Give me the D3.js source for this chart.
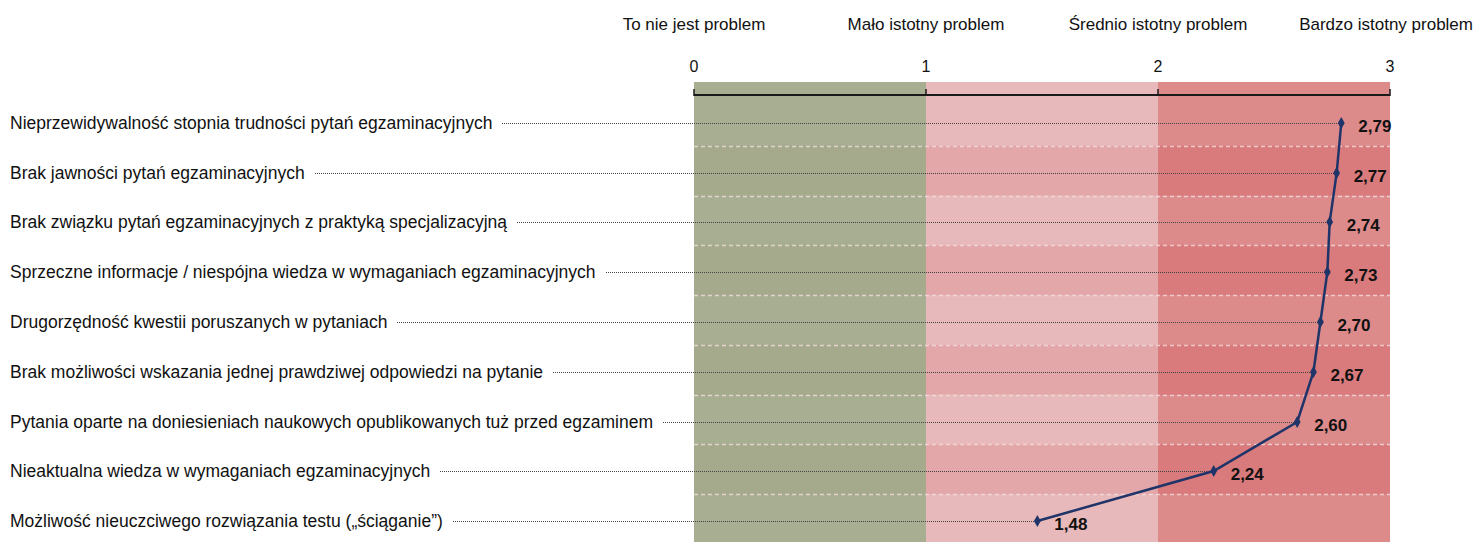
<!DOCTYPE html>
<html>
<head>
<meta charset="utf-8">
<script src="https://cdn.jsdelivr.net/npm/d3@7"></script>
<style>
  body { margin: 0; background: #fff; }
  svg { display: block; font-family: "Liberation Sans", Arial, sans-serif; }
</style>
</head>
<body>
<svg id="chart"></svg>
<script>
var width = 1475;
var height = 542;

// categories, top to bottom
var categories = [
    "Nieprzewidywalność stopnia trudności pytań egzaminacyjnych",
    "Brak jawności pytań egzaminacyjnych",
    "Brak związku pytań egzaminacyjnych z praktyką specjalizacyjną",
    "Sprzeczne informacje / niespójna wiedza w wymaganiach egzaminacyjnych",
    "Drugorzędność kwestii poruszanych w pytaniach",
    "Brak możliwości wskazania jednej prawdziwej odpowiedzi na pytanie",
    "Pytania oparte na doniesieniach naukowych opublikowanych tuż przed egzaminem",
    "Nieaktualna wiedza w wymaganiach egzaminacyjnych",
    "Możliwość nieuczciwego rozwiązania testu („ściąganie”)"
];
var values = [2.79, 2.77, 2.74, 2.73, 2.70, 2.67, 2.60, 2.24, 1.48];
var tickValues = [0, 1, 2, 3];
var scaleLabels = ["To nie jest problem", "Mało istotny problem", "Średnio istotny problem", "Bardzo istotny problem"];

var zoneColors = ["#a8ae91", "#e8b9ba", "#dd8a8b"];
var zoneColorsDark = ["#a4aa8b", "#e3a7a9", "#d97a7c"];

var svg = d3.select("#chart")
    .attr("width", width)
    .attr("height", height);

var x = d3.scaleLinear()
    .domain([0, 3])
    .range([694, 1390]);

var y = d3.scaleBand()
    .domain(categories)
    .range([96, 544]);

var bgTop = 82;

// background zones
svg.selectAll(".zone")
    .data([0, 1, 2])
    .enter().append("rect")
    .attr("class", "zone")
    .attr("x", function (d) { return x(d); })
    .attr("y", bgTop)
    .attr("width", function (d) { return x(d + 1) - x(d); })
    .attr("height", height - bgTop)
    .style("fill", function (d) { return zoneColors[d]; });

// darker alternating rows
categories.forEach(function (c, i) {
    if (i % 2 === 1) {
        svg.selectAll(null)
            .data([0, 1, 2])
            .enter().append("rect")
            .attr("x", function (d) { return x(d); })
            .attr("y", y(c))
            .attr("width", function (d) { return x(d + 1) - x(d); })
            .attr("height", y.bandwidth())
            .style("fill", function (d) { return zoneColorsDark[d]; });
    }
});

// dashed row separators
categories.slice(1).forEach(function (c) {
    svg.append("line")
        .attr("x1", x(0))
        .attr("x2", x(3))
        .attr("y1", Math.round(y(c)) + 0.5)
        .attr("y2", Math.round(y(c)) + 0.5)
        .style("stroke", "#f3dede")
        .style("stroke-width", 1.5)
        .style("stroke-dasharray", "4,3")
        .style("opacity", 0.8);
});

// axis line with upward ticks
svg.append("line")
    .attr("x1", x(0))
    .attr("x2", x(3))
    .attr("y1", 95)
    .attr("y2", 95)
    .style("stroke", "#1a1a1a")
    .style("stroke-width", 2);

svg.selectAll(".tick-mark")
    .data(tickValues)
    .enter().append("line")
    .attr("class", "tick-mark")
    .attr("x1", function (d) { return x(d); })
    .attr("x2", function (d) { return x(d); })
    .attr("y1", 89)
    .attr("y2", 96)
    .style("stroke", "#1a1a1a")
    .style("stroke-width", 1.5);

svg.selectAll(".tick-num")
    .data(tickValues)
    .enter().append("text")
    .attr("class", "tick-num")
    .attr("x", function (d) { return x(d); })
    .attr("y", 72)
    .attr("text-anchor", "middle")
    .style("font-size", "16px")
    .style("fill", "#111")
    .text(function (d) { return d; });

// last header label sits against the right edge
svg.selectAll(".scale-label")
    .data(scaleLabels)
    .enter().append("text")
    .attr("class", "scale-label")
    .attr("x", function (d, i) { return i === scaleLabels.length - 1 ? width - 2 : x(tickValues[i]); })
    .attr("y", 30)
    .attr("text-anchor", function (d, i) { return i === scaleLabels.length - 1 ? "end" : "middle"; })
    .style("font-size", "17px")
    .style("fill", "#111")
    .text(function (d) { return d; });

// category labels and dotted leaders
var rowCenter = function (d) { return Math.round(y(d) + y.bandwidth() / 2 + 2); };

var labels = svg.selectAll(".cat-label")
    .data(categories)
    .enter().append("text")
    .attr("class", "cat-label")
    .attr("x", 10)
    .attr("y", rowCenter)
    .attr("dy", ".35em")
    .style("font-size", "17.5px")
    .style("fill", "#111")
    .text(function (d) { return d; });

labels.each(function (d, i) {
    var w = this.getComputedTextLength();
    svg.append("line")
        .attr("x1", 10 + w + 10)
        .attr("x2", x(values[i]))
        .attr("y1", rowCenter(d) + 0.5)
        .attr("y2", rowCenter(d) + 0.5)
        .style("stroke", "#444")
        .style("stroke-width", 1)
        .style("stroke-dasharray", "1,1")
        .style("shape-rendering", "crispEdges");
});

// line through values
var line = d3.line()
    .x(function (d) { return x(d); })
    .y(function (d, i) { return rowCenter(categories[i]); });

svg.append("path")
    .datum(values)
    .attr("d", line)
    .style("fill", "none")
    .style("stroke", "#1f3468")
    .style("stroke-width", 2.5);

svg.selectAll(".marker")
    .data(values)
    .enter().append("path")
    .attr("class", "marker")
    .attr("d", d3.symbol().type(d3.symbolDiamond).size(40))
    .attr("transform", function (d, i) {
        return "translate(" + x(d) + "," + rowCenter(categories[i]) + ")";
    })
    .style("fill", "#1f3468");

svg.selectAll(".value-label")
    .data(values)
    .enter().append("text")
    .attr("class", "value-label")
    .attr("x", function (d) { return x(d) + 17; })
    .attr("y", function (d, i) { return rowCenter(categories[i]) + 3; })
    .attr("dy", ".35em")
    .style("font-size", "17px")
    .style("font-weight", "bold")
    .style("fill", "#111")
    .text(function (d) { return d.toFixed(2).replace(".", ","); });
</script>
</body>
</html>
